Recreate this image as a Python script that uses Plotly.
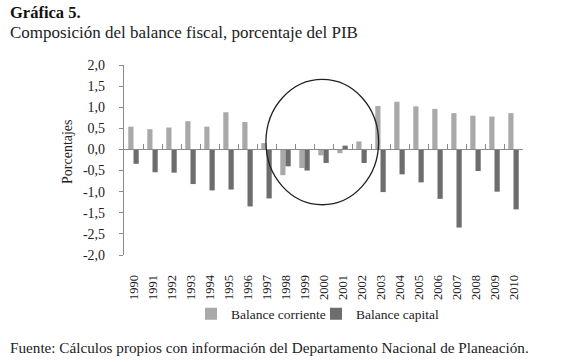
import plotly.graph_objects as go

years = [str(y) for y in range(1990, 2011)]
balance_corriente = [0.54, 0.48, 0.52, 0.67, 0.54, 0.88, 0.65, 0.15, -0.61, -0.44, -0.14,
                     -0.09, 0.19, 1.03, 1.13, 1.02, 0.96, 0.86, 0.80, 0.78, 0.86]
balance_capital = [-0.34, -0.54, -0.55, -0.82, -0.97, -0.95, -1.35, -1.16, -0.40, -0.50, -0.32,
                   0.09, -0.32, -1.01, -0.59, -0.78, -1.17, -1.85, -0.51, -1.00, -1.42]
y_tickvals = [2.0, 1.5, 1.0, 0.5, 0.0, -0.5, -1.0, -1.5, -2.0, -2.5]
y_ticktext = ["2,0", "1,5", "1,0", "0,5", "0,0", "-0,5", "-1,0", "-1,5", "-2,5", "-2,0"]

W, H = 575, 363
L, R, T, B = 124, 52, 65, 108
PW, PH = W - L - R, H - T - B

def px(x):
    return (x - L) / PW

def py(y):
    return (H - B - y) / PH

SERIF = "Liberation Serif"
C_LIGHT = "#a9a9a9"
C_DARK = "#6d6d6d"
C_AXIS = "#8a8a8a"

fig = go.Figure()
fig.add_trace(go.Bar(x=years, y=balance_corriente, name="Balance corriente",
                     marker=dict(color=C_LIGHT, line=dict(width=0))))
fig.add_trace(go.Bar(x=years, y=balance_capital, name="Balance capital",
                     marker=dict(color=C_DARK, line=dict(width=0))))
# helper trace to define the category axis drawn at the zero line
fig.add_trace(go.Scatter(x=years, y=[0] * len(years), xaxis="x2", mode="markers",
                         marker=dict(opacity=0), showlegend=False, hoverinfo="skip"))

fig.update_layout(
    width=W, height=H,
    margin=dict(l=L, r=R, t=T, b=B),
    paper_bgcolor="white", plot_bgcolor="white",
    font=dict(family=SERIF, color="#222222", size=13),
    barmode="group", bargap=0.45, bargroupgap=0,
    showlegend=True,
    legend=dict(orientation="h", x=px(316), xanchor="center", y=py(314), yanchor="middle",
                font=dict(family=SERIF, size=13.5, color="#222222"),
                itemwidth=30, entrywidth=80, entrywidthmode="pixels",
                bgcolor="rgba(0,0,0,0)"),
    xaxis=dict(type="category", categoryarray=years, range=[-0.5, 20.5],
               showline=False, showgrid=False, zeroline=False,
               ticks="outside", ticklen=14, tickcolor="rgba(0,0,0,0)",
               tickangle=-90, tickfont=dict(family=SERIF, size=12.5, color="#222222")),
    xaxis2=dict(type="category", categoryarray=years, range=[-0.5, 20.5],
                overlaying="x", anchor="free", position=2.5 / 4.5,
                showline=True, linecolor=C_AXIS, linewidth=1.3,
                ticks="inside", tickson="boundaries", ticklen=5, tickcolor=C_AXIS, tickwidth=1.2,
                showticklabels=False, showgrid=False, zeroline=False),
    yaxis=dict(range=[-2.5, 2.0], tickvals=y_tickvals, ticktext=y_ticktext,
               showline=True, linecolor=C_AXIS, linewidth=1.3,
               ticks="outside", ticklen=4, tickcolor=C_AXIS, tickwidth=1.2,
               ticklabelstandoff=11,
               showgrid=False, zeroline=False,
               tickfont=dict(family=SERIF, size=14, color="#222222")),
)

fig.add_shape(type="circle", xref="x", yref="y", x0=6.97, x1=12.9, y0=-1.31, y1=1.66,
              line=dict(color="#222222", width=1.3))

fig.add_annotation(text="<b>Gráfica 5.</b>", xref="paper", yref="paper",
                   x=px(8), y=py(12), xanchor="left", yanchor="middle", showarrow=False,
                   font=dict(family=SERIF, size=16.5, color="#111111"))
fig.add_annotation(text="Composición del balance fiscal, porcentaje del PIB", xref="paper", yref="paper",
                   x=px(8), y=py(33), xanchor="left", yanchor="middle", showarrow=False,
                   font=dict(family=SERIF, size=17, color="#222222"))
fig.add_annotation(text="Porcentajes", xref="paper", yref="paper",
                   x=px(67), y=py(152), xanchor="center", yanchor="middle", showarrow=False,
                   textangle=-90, font=dict(family=SERIF, size=14, color="#222222"))
fig.add_annotation(text="Fuente: Cálculos propios con información del Departamento Nacional de Planeación.",
                   xref="paper", yref="paper",
                   x=px(8), y=py(347), xanchor="left", yanchor="middle", showarrow=False,
                   font=dict(family=SERIF, size=15.2, color="#222222"))

fig.write_html("out.html", config={"displayModeBar": False},
               post_script="document.body.style.margin='0';")
